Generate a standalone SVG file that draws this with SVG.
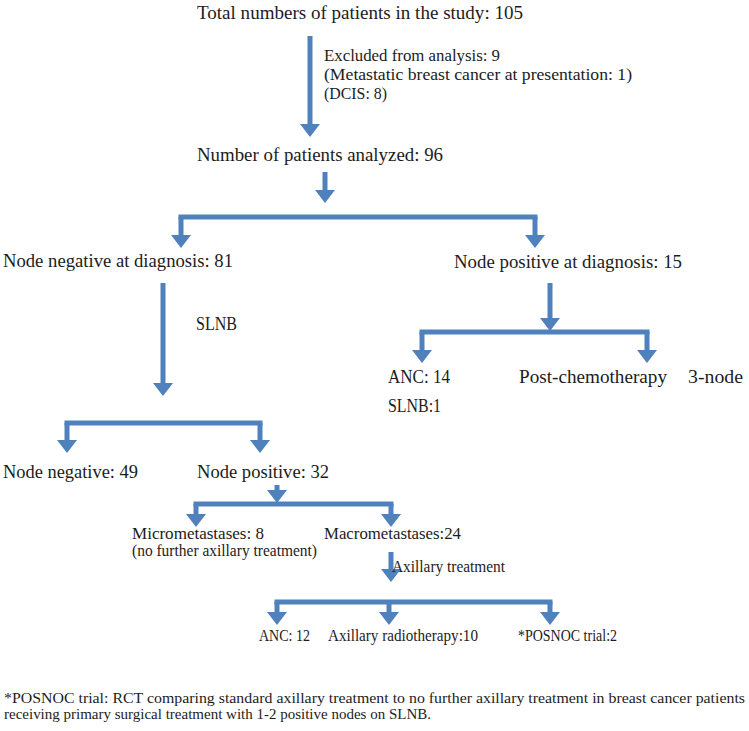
<svg xmlns="http://www.w3.org/2000/svg" width="749" height="731" viewBox="0 0 749 731" font-family="'Liberation Serif', 'Times New Roman', serif">
<style>
  text { font-family: "Liberation Serif", "Times New Roman", serif; fill: #1c1c1c; }
  .m { font-size: 18px; }
  .s { font-size: 16px; }
  .f { font-size: 14.5px; }
  .bar { fill: none; stroke: #4F81BD; stroke-width: 5; stroke-linecap: square; }
  .arr { fill: none; stroke: #4F81BD; stroke-width: 5; marker-end: url(#ah); }
</style>
<defs>
  <marker id="ah" viewBox="0 0 13 20" refX="1" refY="10" markerWidth="13" markerHeight="20" markerUnits="userSpaceOnUse" orient="auto">
    <path d="M0,0 L13,10 L0,20 z" fill="#4F81BD"/>
  </marker>
</defs>
<rect width="749" height="731" fill="#ffffff"/>

<g id="connectors">
  <path class="arr" d="M310,36 V125"/>
  <path class="arr" d="M325,172 V191"/>
  <path class="bar" d="M181,217 H535"/>
  <path class="arr" d="M181,217 V236"/>
  <path class="arr" d="M535,217 V236"/>
  <path class="arr" d="M163,283 V384"/>
  <path class="arr" d="M550,283 V319"/>
  <path class="bar" d="M422,332 H647"/>
  <path class="arr" d="M422,332 V351"/>
  <path class="arr" d="M647,332 V351"/>
  <path class="bar" d="M67,423 H260"/>
  <path class="arr" d="M67,423 V441"/>
  <path class="arr" d="M260,423 V441"/>
  <path class="arr" d="M277,485 V491"/>
  <path class="bar" d="M196,504 H391"/>
  <path class="arr" d="M196,504 V515"/>
  <path class="arr" d="M391,504 V515"/>
  <path class="arr" d="M391,552 V570"/>
  <path class="bar" d="M277,602 H550"/>
  <path class="arr" d="M277,602 V613"/>
  <path class="arr" d="M389,602 V613"/>
  <path class="arr" d="M550,602 V613"/>
</g>

<g id="n-total"><text class="m" x="197" y="19" textLength="326" lengthAdjust="spacingAndGlyphs">Total numbers of patients in the study: 105</text></g>
<g id="n-excluded">
  <text class="s" x="324" y="61" textLength="176" lengthAdjust="spacingAndGlyphs">Excluded from analysis: 9</text>
  <text class="s" x="324" y="80" textLength="308" lengthAdjust="spacingAndGlyphs">(Metastatic breast cancer at presentation: 1)</text>
  <text class="s" x="324" y="99" textLength="63" lengthAdjust="spacingAndGlyphs">(DCIS: 8)</text>
</g>
<g id="n-analyzed"><text class="m" x="197" y="161" textLength="246" lengthAdjust="spacingAndGlyphs">Number of patients analyzed: 96</text></g>
<g id="n-neg-diag"><text class="m" x="3" y="267" textLength="230" lengthAdjust="spacingAndGlyphs">Node negative at diagnosis: 81</text></g>
<g id="n-pos-diag"><text class="m" x="454" y="268" textLength="228" lengthAdjust="spacingAndGlyphs">Node positive at diagnosis: 15</text></g>
<g id="l-slnb"><text class="m" x="196" y="330" textLength="41" lengthAdjust="spacingAndGlyphs">SLNB</text></g>
<g id="n-anc14">
  <text class="m" x="388" y="383" textLength="62" lengthAdjust="spacingAndGlyphs">ANC: 14</text>
  <text class="m" x="388" y="412" textLength="53" lengthAdjust="spacingAndGlyphs">SLNB:1</text>
</g>
<g id="n-postchemo">
  <text class="m" x="519" y="383" textLength="148" lengthAdjust="spacingAndGlyphs">Post-chemotherapy</text>
  <text class="m" x="688" y="383" textLength="55" lengthAdjust="spacingAndGlyphs">3-node</text>
</g>
<g id="n-neg"><text class="m" x="3" y="478" textLength="135" lengthAdjust="spacingAndGlyphs">Node negative: 49</text></g>
<g id="n-pos"><text class="m" x="197" y="478" textLength="132" lengthAdjust="spacingAndGlyphs">Node positive: 32</text></g>
<g id="n-micro">
  <text class="s" x="132" y="539" textLength="132" lengthAdjust="spacingAndGlyphs">Micrometastases: 8</text>
  <text class="s" x="132" y="556" textLength="185" lengthAdjust="spacingAndGlyphs">(no further axillary treatment)</text>
</g>
<g id="n-macro"><text class="s" x="324" y="539" textLength="137" lengthAdjust="spacingAndGlyphs">Macrometastases:24</text></g>
<g id="l-axtreat"><text class="s" x="392" y="572" textLength="113" lengthAdjust="spacingAndGlyphs">Axillary treatment</text></g>
<g id="n-anc12"><text class="s" x="259" y="641" textLength="51" lengthAdjust="spacingAndGlyphs">ANC: 12</text></g>
<g id="n-radio"><text class="s" x="328" y="641" textLength="150" lengthAdjust="spacingAndGlyphs">Axillary radiotherapy:10</text></g>
<g id="n-posnoc"><text class="s" x="518" y="641" textLength="99" lengthAdjust="spacingAndGlyphs">*POSNOC trial:2</text></g>
<g id="footnote">
  <text class="f" x="4" y="703" textLength="741" lengthAdjust="spacingAndGlyphs">*POSNOC trial: RCT comparing standard axillary treatment to no further axillary treatment in breast cancer patients</text>
  <text class="f" x="4" y="719" textLength="427" lengthAdjust="spacingAndGlyphs">receiving primary surgical treatment with 1-2 positive nodes on SLNB.</text>
</g>
</svg>
